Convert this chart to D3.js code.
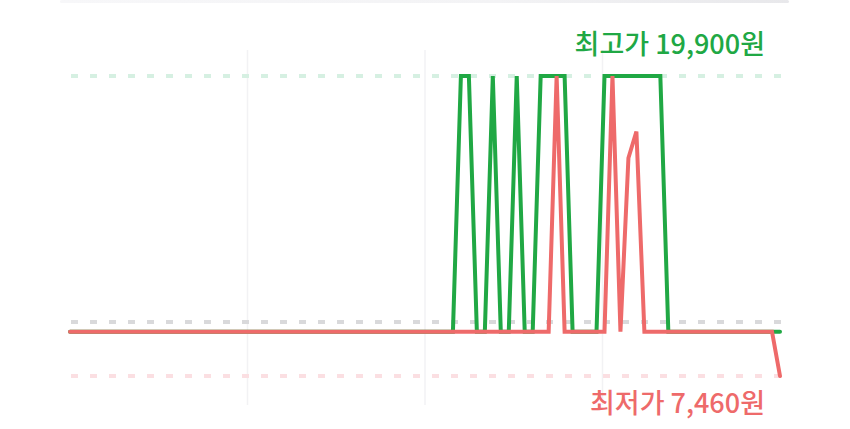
<!DOCTYPE html>
<html>
<head>
<meta charset="utf-8">
<script src="https://cdn.jsdelivr.net/npm/d3@7"></script>
<style>
  html, body { margin: 0; padding: 0; background: #fff; }
  svg { display: block; }
</style>
</head>
<body>
<script>
// 90 days of prices (won), index = day
var days = d3.range(90);

var highSeries = [
  9300, 9300, 9300, 9300, 9300, 9300, 9300, 9300, 9300, 9300,
  9300, 9300, 9300, 9300, 9300, 9300, 9300, 9300, 9300, 9300,
  9300, 9300, 9300, 9300, 9300, 9300, 9300, 9300, 9300, 9300,
  9300, 9300, 9300, 9300, 9300, 9300, 9300, 9300, 9300, 9300,
  9300, 9300, 9300, 9300, 9300, 9300, 9300, 9300, 9300, 19900,
  19900, 9300, 9300, 19900, 9300, 9300, 19900, 9300, 9300, 19900,
  19900, 19900, 19900, 9300, 9300, 9300, 9300, 19900, 19900, 19900,
  19900, 19900, 19900, 19900, 19900, 9300, 9300, 9300, 9300, 9300,
  9300, 9300, 9300, 9300, 9300, 9300, 9300, 9300, 9300, 9300
];

var lowSeries = [
  9300, 9300, 9300, 9300, 9300, 9300, 9300, 9300, 9300, 9300,
  9300, 9300, 9300, 9300, 9300, 9300, 9300, 9300, 9300, 9300,
  9300, 9300, 9300, 9300, 9300, 9300, 9300, 9300, 9300, 9300,
  9300, 9300, 9300, 9300, 9300, 9300, 9300, 9300, 9300, 9300,
  9300, 9300, 9300, 9300, 9300, 9300, 9300, 9300, 9300, 9300,
  9300, 9300, 9300, 9300, 9300, 9300, 9300, 9300, 9300, 9300,
  9300, 19900, 9300, 9300, 9300, 9300, 9300, 9300, 19900, 9300,
  16500, 17600, 9300, 9300, 9300, 9300, 9300, 9300, 9300, 9300,
  9300, 9300, 9300, 9300, 9300, 9300, 9300, 9300, 9300, 7460
];

var maxPrice = 19900;
var minPrice = 7460;
var midRef = 9700;
var maxLabel = "최고가 19,900원";
var minLabel = "최저가 7,460원";

var W = 850, H = 429;
var svg = d3.select("body").append("svg").attr("width", W).attr("height", H);

var x = d3.scaleLinear().domain([0, days.length - 1]).range([70, 780]);
var y = d3.scaleLinear().domain([minPrice, maxPrice]).range([376, 76]);
var quarter = d3.scaleLinear().domain([0, 4]).range([70, 780]);

// faint card edge at top
var grad = svg.append("defs").append("linearGradient").attr("id", "edge");
grad.append("stop").attr("offset", "0").attr("stop-color", "#f7f7f9");
grad.append("stop").attr("offset", "0.6").attr("stop-color", "#f3f3f5");
grad.append("stop").attr("offset", "1").attr("stop-color", "#e8e8eb");
svg.append("rect").attr("x", 60).attr("y", 0).attr("width", 729).attr("height", 3)
  .attr("rx", 1.5).attr("fill", "url(#edge)");

// vertical grid
svg.selectAll("line.vgrid")
  .data([1, 2, 3])
  .enter().append("line")
    .attr("class", "vgrid")
    .attr("x1", function(d){ return quarter(d); })
    .attr("x2", function(d){ return quarter(d); })
    .attr("y1", 50)
    .attr("y2", 405)
    .attr("stroke", "#f2f2f4")
    .attr("stroke-width", 1.5);

// dashed reference lines
var refs = [
  {v: maxPrice, c: "#d6f0e2"},
  {v: midRef, c: "#d9d9db"},
  {v: minPrice, c: "#fbdfe2"}
];
svg.selectAll("line.ref")
  .data(refs)
  .enter().append("line")
    .attr("class", "ref")
    .attr("x1", 71)
    .attr("x2", 782)
    .attr("y1", function(d){ return y(d.v); })
    .attr("y2", function(d){ return y(d.v); })
    .attr("stroke", function(d){ return d.c; })
    .attr("stroke-width", 4)
    .attr("stroke-dasharray", "7,12");

var line = d3.line()
  .x(function(d, i){ return x(days[i]); })
  .y(function(d){ return y(d); });

svg.append("path")
  .datum(highSeries)
  .attr("d", line)
  .attr("fill", "none")
  .attr("stroke", "#20a844")
  .attr("stroke-width", 4)
  .attr("stroke-linecap", "round")
  .attr("stroke-linejoin", "miter");

svg.append("path")
  .datum(lowSeries)
  .attr("d", line)
  .attr("fill", "none")
  .attr("stroke", "#ee6a6a")
  .attr("stroke-width", 4)
  .attr("stroke-linecap", "round")
  .attr("stroke-linejoin", "miter");

// labels
svg.append("text")
  .attr("x", 765).attr("y", 54)
  .attr("text-anchor", "end")
  .attr("font-family", "'Noto Sans CJK KR', 'Noto Sans', sans-serif")
  .attr("font-size", 27)
  .attr("font-weight", 500)
  .attr("fill", "#20a844")
  .text(maxLabel);

svg.append("text")
  .attr("x", 765).attr("y", 413)
  .attr("text-anchor", "end")
  .attr("font-family", "'Noto Sans CJK KR', 'Noto Sans', sans-serif")
  .attr("font-size", 27)
  .attr("font-weight", 500)
  .attr("fill", "#ee6a6a")
  .text(minLabel);
</script>
</body>
</html>
